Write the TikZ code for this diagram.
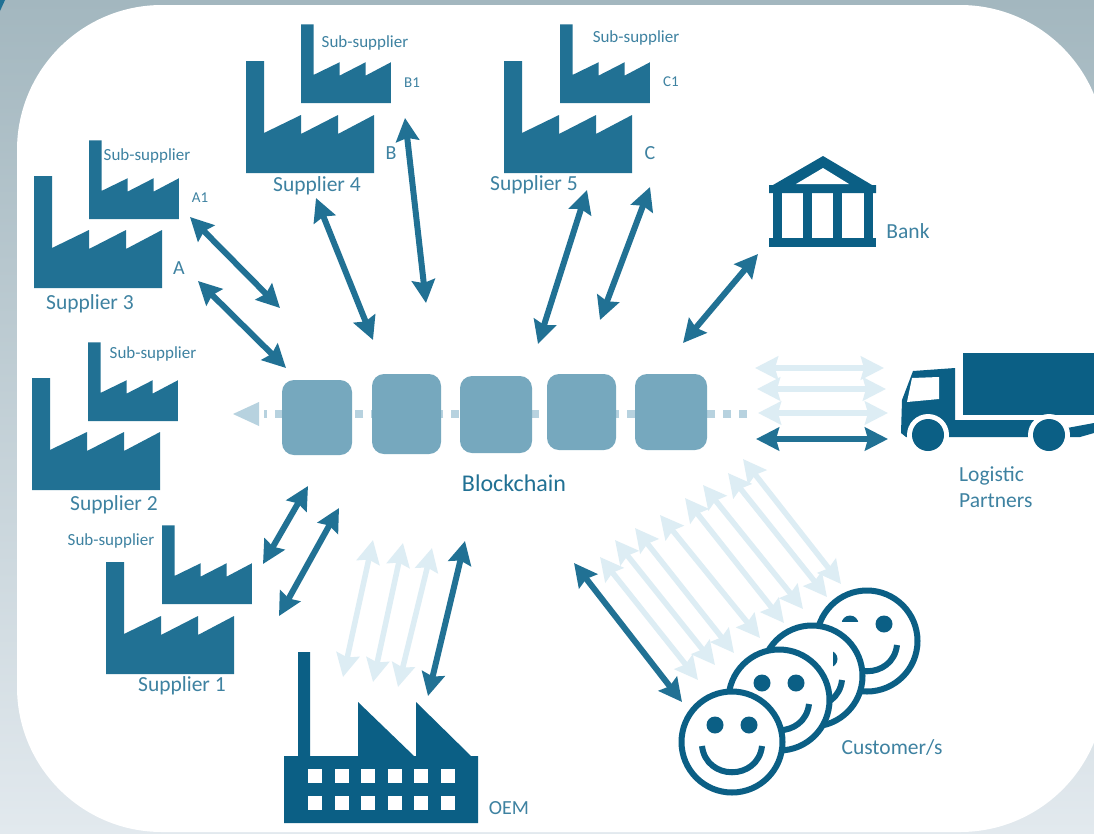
\documentclass[tikz,border=0pt]{standalone}
\usepackage{fontspec}
\setmainfont{Carlito}
\usepackage{tikz}
\usetikzlibrary{arrows.meta}
\definecolor{factoryblue}{HTML}{217194}
\definecolor{darkblue}{HTML}{0B5F85}
\definecolor{textblue}{HTML}{3E82A1}
\definecolor{blockblue}{HTML}{76A8BE}
\definecolor{chainblue}{HTML}{B7D2DF}
\definecolor{fadeblue}{HTML}{DDEDF4}
\definecolor{backtop}{HTML}{A3B7BF}
\definecolor{backbottom}{HTML}{E2E9EE}
\tikzset{
  link/.style={line width=6pt,factoryblue,{Stealth[length=23pt,width=23pt,inset=3pt]}-{Stealth[length=23pt,width=23pt,inset=3pt]}},
  faded/.style={link,fadeblue,line width=5.5pt},
  chainlink/.style={line width=8pt,chainblue,dash pattern=on 8pt off 8pt},
  block/.style={fill=blockblue,rounded corners=12pt},
  caption/.style={text=textblue,font=\fontsize{21.5}{26}\selectfont,inner sep=0pt,align=left},
  subcaption/.style={caption,font=\fontsize{17}{20}\selectfont},
  tag/.style={caption,font=\fontsize{15}{18}\selectfont},
  factory/.pic={
    \fill[factoryblue] (0,0) -- (0,-112) -- (18,-112) -- (18,-40) -- (55,-58) -- (55,-39)
      -- (92,-58) -- (92,-39) -- (128,-58) -- (128,0) -- cycle;
  },
  smiley/.pic={
    \draw[darkblue,fill=white,line width=6pt] (0,0) circle (50.5);
    \fill[darkblue] (-17,-17) circle (8.5) (17,-17) circle (8.5);
    \draw[darkblue,line width=6pt] (-30,4) .. controls (-26,39) and (26,39) .. (30,4);
  }
}
\begin{document}
\begin{tikzpicture}[x=1pt,y=-1pt]
  \useasboundingbox (0,0) rectangle (1094,833);
  \shade[top color=backtop,bottom color=backbottom] (0,0) rectangle (1094,833);
  \fill[factoryblue] (0,0) -- (5,0) -- (0,11) -- cycle;
  \fill[white,rounded corners=145pt] (17,5) rectangle (1105,832);

  % suppliers
  \pic at (34,288) {factory};
  \pic[scale=.703] at (89,219) {factory};
  \pic at (246,173) {factory};
  \pic[scale=.703] at (301,103) {factory};
  \pic at (504,173) {factory};
  \pic[scale=.703] at (560,103) {factory};
  \pic at (32,490) {factory};
  \pic[scale=.703] at (88,421) {factory};
  \pic at (106,674) {factory};
  \pic[scale=.703] at (162,604) {factory};

  \node[caption] (supplier3) at (90,304) {Supplier 3};
  \node[caption] (supplier4) at (317,186) {Supplier 4};
  \node[caption] (supplier5) at (534,185) {Supplier 5};
  \node[caption] (supplier2) at (114,505) {Supplier 2};
  \node[caption] (supplier1) at (182,686) {Supplier 1};
  \node[subcaption] (sub3) at (147,156) {Sub-supplier};
  \node[subcaption] (sub4) at (365,43) {Sub-supplier};
  \node[subcaption] (sub5) at (636,38) {Sub-supplier};
  \node[subcaption] (sub2) at (153,354) {Sub-supplier};
  \node[subcaption] (sub1) at (111,541) {Sub-supplier};
  \node[tag] (tagA1) at (200,198) {A1};
  \node[caption,font=\fontsize{20}{24}\selectfont] (tagA) at (179,268) {A};
  \node[tag] (tagB1) at (412,83) {B1};
  \node[caption,font=\fontsize{20}{24}\selectfont] (tagB) at (391,153) {B};
  \node[tag] (tagC1) at (671,82) {C1};
  \node[caption,font=\fontsize{20}{24}\selectfont] (tagC) at (650,153) {C};

  % bank
  \fill[darkblue] (823,156) -- (872,185) -- (876,185) -- (876,193) -- (769,193) -- (769,185) -- (773,185) -- cycle;
  \fill[white] (823,168) -- (849,184) -- (796,184) -- cycle;
  \foreach \x in {773,803,833,864} \fill[darkblue] (\x,190) rectangle (\x+9,240);
  \fill[darkblue] (769,238) rectangle (876,247);
  \node[caption] (bank) at (908,231) {Bank};

  % chain
  \coordinate (chainR) at (747,414);
  \coordinate (chainL) at (264,414);
  \coordinate (chainTip) at (233,414);
  \draw[chainlink] (chainR) -- (chainL);
  \fill[chainblue] (chainTip) -- (259,402) -- (259,426) -- cycle;
  \path[block] (282,380) rectangle (352,455) node[midway] (block1) {};
  \path[block] (372,374) rectangle (441,454) node[midway] (block2) {};
  \path[block] (460,376) rectangle (532,453) node[midway] (block3) {};
  \path[block] (547,374) rectangle (616,450) node[midway] (block4) {};
  \path[block] (635,374) rectangle (707,450) node[midway] (block5) {};
  \node[caption,text=factoryblue,font=\fontsize{24}{28}\selectfont] (blockchain) at (514,483) {Blockchain};

  % truck
  \fill[darkblue] (963,353) rectangle (1094,415);
  \fill[darkblue] (955,368) -- (913,371) -- (902,400) -- (901,433) -- (906,437) -- (1036,437) -- (1036,420) -- (955,420) -- cycle;
  \fill[darkblue] (1067,428) -- (1094,423) -- (1094,433) -- (1080,437) -- (1068,437) -- cycle;
  \fill[white] (912,378) -- (939,377) -- (939,399) -- (907,402) -- cycle;
  \fill[white] (928,435) circle (21) (1049,435) circle (21);
  \fill[darkblue] (928,435) circle (16) (1049,435) circle (16);
  \node[caption,anchor=north west] (logistic) at (959,466) {Logistic\\Partners};

  % oem
  \fill[darkblue] (284,756) -- (298,756) -- (298,652) -- (310,652) -- (310,756) -- (358,756) -- (358,702) -- (414,756) -- (416,756)
    -- (416,702) -- (471,756) -- (478,756) -- (478,823) -- (284,823) -- cycle;
  \foreach \y in {769,796} \foreach \x in {308,334.5,361,387.5,414,440.5} \fill[white] (\x,\y) rectangle (\x+14,\y+14);
  \node[caption,font=\fontsize{20}{24}\selectfont] (oem) at (509,808) {OEM};

  % customers
  \pic at (867,641) {smiley};
  \fill[white] (836,622) rectangle (860,634);
  \pic at (812,676) {smiley};
  \fill[white] (818,648) rectangle (833,670);
  \pic at (779,700) {smiley};
  \pic at (732,742) {smiley};
  \node[caption] (customer) at (892,747) {Customer/s};

  % links
  \foreach \n/\xa/\ya/\xb/\yb in {a/190/217/280/308, b/198/281/286/368, c/316/198/373/340, d/405/118/426/303,
      e/587/190/538/344, f/650/187/600/320, g/758/254/683/343, h/756/439/888/439, i/308/486/263/564,
      j/339/508/279/616, k/465/541/428/696, l/574/563/682/702} {
    \coordinate (p\n) at (\xa,\ya);
    \coordinate (q\n) at (\xb,\yb);
    \path[link] (p\n) edge (q\n);
  }
  \foreach \n/\xa/\ya/\xb/\yb in {a/755/368/884/368, b/757/389/886/389, c/758/413/888/413,
      d/373/540/343/677, e/403/543/373/682, f/432/548/398/687,
      g/600/557/698/680, h/615/540/715/665, i/635/528/734/653, j/660/515/760/638,
      k/685/498/784/623, l/703/485/803/609, m/728/473/827/597, n/743/459/841/584} {
    \coordinate (r\n) at (\xa,\ya);
    \coordinate (s\n) at (\xb,\yb);
    \path[faded] (r\n) edge (s\n);
  }
\end{tikzpicture}
\end{document}
